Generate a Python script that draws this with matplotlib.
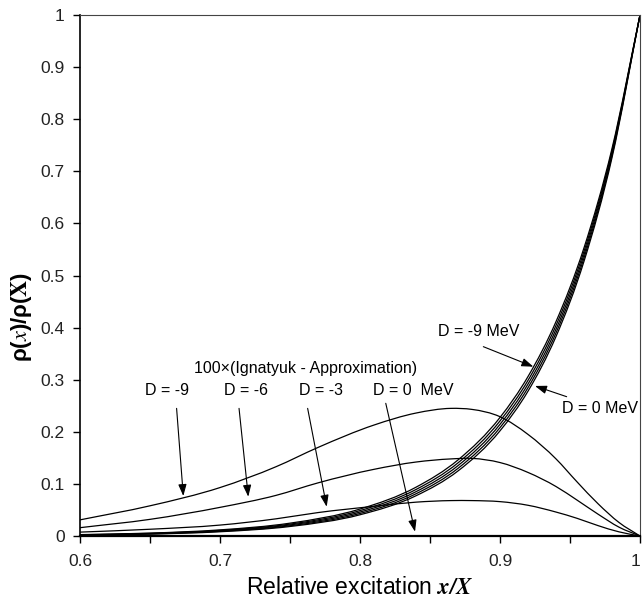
import numpy as np
import matplotlib
matplotlib.use("Agg")
import matplotlib.pyplot as plt
from matplotlib.path import Path
from matplotlib.patches import PathPatch

plt.rcParams['font.family'] = ['Liberation Sans', 'DejaVu Sans']
plt.rcParams['mathtext.fontset'] = 'stix'

# ratio curves rho(x)/rho(X), D = -9 ... 0 MeV (five nearly overlapping lines)
x_ratio = [0.60, 0.65, 0.70, 0.75, 0.80, 0.84, 0.87, 0.90, 0.92, 0.94, 0.96, 0.98, 1.00]
ratio_1 = [0.0027, 0.0056, 0.0118, 0.0247, 0.0518, 0.0937, 0.1460, 0.2276, 0.3061, 0.4115, 0.5532, 0.7438, 1.0]
ratio_2 = [0.0024, 0.0051, 0.0108, 0.0229, 0.0488, 0.0893, 0.1404, 0.2209, 0.2988, 0.4042, 0.5466, 0.7393, 1.0]
ratio_3 = [0.0021, 0.0046, 0.0099, 0.0213, 0.0460, 0.0851, 0.1351, 0.2144, 0.2917, 0.3969, 0.5401, 0.7349, 1.0]
ratio_4 = [0.0019, 0.0041, 0.0090, 0.0197, 0.0433, 0.0811, 0.1299, 0.2081, 0.2848, 0.3899, 0.5337, 0.7305, 1.0]
ratio_5 = [0.0017, 0.0037, 0.0082, 0.0183, 0.0408, 0.0773, 0.1249, 0.2019, 0.2780, 0.3829, 0.5273, 0.7262, 1.0]

# 100 x (Ignatyuk - Approximation)
x_diff = [0.60, 0.65, 0.70, 0.74, 0.77, 0.81, 0.84, 0.865, 0.88, 0.90, 0.92, 0.94, 0.955, 0.97, 0.985, 1.00]
diff_m9 = [0.031, 0.058, 0.093, 0.133, 0.170, 0.213, 0.236, 0.245, 0.243, 0.229, 0.195, 0.148, 0.104, 0.062, 0.026, 0.0]
diff_m6 = [0.016, 0.032, 0.055, 0.078, 0.102, 0.128, 0.142, 0.148, 0.149, 0.141, 0.122, 0.095, 0.069, 0.042, 0.017, 0.0]
diff_m3 = [0.0075, 0.013, 0.021, 0.033, 0.045, 0.057, 0.065, 0.068, 0.068, 0.066, 0.059, 0.046, 0.034, 0.020, 0.008, 0.0]


def smooth_path(xs, ys):
    # cubic Hermite segments written as Bezier curves (like a smoothed Excel line)
    xs = np.asarray(xs, float)
    ys = np.asarray(ys, float)
    n = len(xs)
    h = np.diff(xs)
    s = np.diff(ys) / h
    m = np.zeros(n)
    m[0] = s[0]
    m[-1] = s[-1]
    for i in range(1, n - 1):
        m[i] = (s[i - 1] * h[i] + s[i] * h[i - 1]) / (h[i - 1] + h[i])
    verts = [(xs[0], ys[0])]
    codes = [Path.MOVETO]
    for i in range(n - 1):
        verts.append((xs[i] + h[i] / 3, ys[i] + m[i] * h[i] / 3))
        verts.append((xs[i + 1] - h[i] / 3, ys[i + 1] - m[i + 1] * h[i] / 3))
        verts.append((xs[i + 1], ys[i + 1]))
        codes += [Path.CURVE4] * 3
    return Path(verts, codes)


fig = plt.figure(figsize=(6.42, 6.14), dpi=100)
ax = fig.add_axes([0.1246, 0.127, 0.8723, 0.8486])

for ys in [ratio_1, ratio_2, ratio_3, ratio_4, ratio_5]:
    ax.add_patch(PathPatch(smooth_path(x_ratio, ys), fill=False, ec='black', lw=0.9))
for ys in [diff_m9, diff_m6, diff_m3]:
    ax.add_patch(PathPatch(smooth_path(x_diff, ys), fill=False, ec='black', lw=0.9))

ax.set_xlim(0.6, 1.0)
ax.set_ylim(0, 1.0)
ax.set_xticks([0.6, 0.7, 0.8, 0.9, 1.0])
ax.set_xticklabels(['0.6', '0.7', '0.8', '0.9', '1'])
ax.get_xticklabels()[-1].set_ha('right')
ax.set_xticks([0.65, 0.75, 0.85, 0.95], minor=True)
ax.set_yticks(np.arange(0, 1.01, 0.1))
ax.set_yticklabels(['0'] + ['%.1f' % v for v in np.arange(0.1, 0.95, 0.1)] + ['1'])
ax.tick_params(axis='both', which='both', direction='out', length=5, width=1,
               labelsize=12.5, colors='black', labelcolor='#222222')
ax.tick_params(axis='x', which='both', pad=8)
ax.tick_params(axis='y', pad=6)

ax.spines['left'].set_linewidth(1.2)
ax.spines['bottom'].set_linewidth(1.6)
for side in ['top', 'right']:
    ax.spines[side].set_linewidth(0.8)
    ax.spines[side].set_color('#444444')

ax.set_xlabel(r'Relative excitation $\mathbfit{x/X}$', fontsize=16.5, labelpad=5)
ax.set_ylabel(r'ρ($\mathit{x}$)/ρ($\mathbf{X}$)', fontsize=16, fontweight='bold')
ax.yaxis.set_label_coords(-0.082, 0.42)

arrow = dict(arrowstyle='-|>,head_length=0.7,head_width=0.25', color='black', lw=0.8,
             shrinkA=0, shrinkB=0)

fs = 11.5
ax.text(0.7612, 0.322, '100×(Ignatyuk - Approximation)', ha='center', va='center', fontsize=fs)
ax.text(0.6625, 0.280, 'D = -9', ha='center', va='center', fontsize=fs)
ax.text(0.7186, 0.280, 'D = -6', ha='center', va='center', fontsize=fs)
ax.text(0.7718, 0.280, 'D = -3', ha='center', va='center', fontsize=fs)
ax.text(0.8381, 0.280, 'D = 0  MeV', ha='center', va='center', fontsize=fs)
ax.annotate('', xy=(0.6738, 0.0768), xytext=(0.669, 0.245), arrowprops=arrow)
ax.annotate('', xy=(0.7202, 0.0754), xytext=(0.7136, 0.245), arrowprops=arrow)
ax.annotate('', xy=(0.7762, 0.0562), xytext=(0.7626, 0.245), arrowprops=arrow)
ax.annotate('', xy=(0.8393, 0.0083), xytext=(0.8184, 0.2547), arrowprops=arrow)

ax.text(0.8846, 0.392, 'D = -9 MeV', ha='center', va='center', fontsize=fs)
ax.annotate('', xy=(0.9238, 0.325), xytext=(0.8881, 0.3634), arrowprops=arrow)
ax.text(0.9985, 0.2457, 'D = 0 MeV', ha='right', va='center', fontsize=fs)
ax.annotate('', xy=(0.925, 0.288), xytext=(0.9476, 0.2674), arrowprops=arrow)

fig.savefig('out.png', dpi=100)
